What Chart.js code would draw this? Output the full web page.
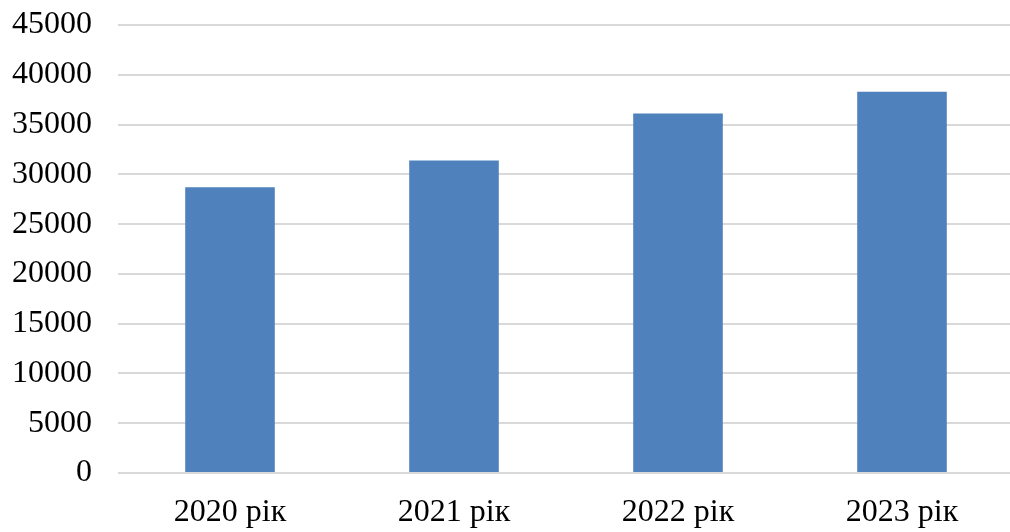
<!DOCTYPE html>
<html>
<head>
<meta charset="utf-8">
<script src="https://cdn.jsdelivr.net/npm/chart.js@4/dist/chart.umd.min.js"></script>
<style>
  html, body { margin: 0; padding: 0; background: #fff; overflow: hidden; }
  #wrap { position: absolute; left: -14.5px; top: -17.3px; width: 1028px; height: 562px; }
</style>
</head>
<body>
<div id="wrap"><canvas id="chart"></canvas></div>
<script>
const years = ["2020 рік", "2021 рік", "2022 рік", "2023 рік"];
const values = [28700, 31400, 36100, 38300];
const yMax = 45000;
const yStep = 5000;

const font = { family: "'Liberation Serif', 'Times New Roman', serif", size: 32, lineHeight: 1 };

const ctx = document.getElementById("chart").getContext("2d");
new Chart(ctx, {
  type: "bar",
  data: {
    labels: years,
    datasets: [
      {
        data: values,
        backgroundColor: "#4F81BD",
        borderWidth: 0,
        categoryPercentage: 1,
        barPercentage: 0.4,
      },
    ],
  },
  options: {
    responsive: true,
    maintainAspectRatio: false,
    animation: false,
    layout: { padding: 0 },
    plugins: {
      legend: { display: false },
      tooltip: { enabled: false },
    },
    scales: {
      x: {
        grid: { display: false },
        border: { display: false },
        ticks: { color: "#000", font: font, padding: 16 },
      },
      y: {
        min: 0,
        max: yMax,
        grid: { color: "#d9d9d9", lineWidth: 2, drawTicks: false },
        border: { display: false },
        ticks: {
          stepSize: yStep,
          color: "#000",
          font: font,
          padding: 26,
          callback: (v) => String(v),
        },
      },
    },
  },
});
</script>
</body>
</html>
